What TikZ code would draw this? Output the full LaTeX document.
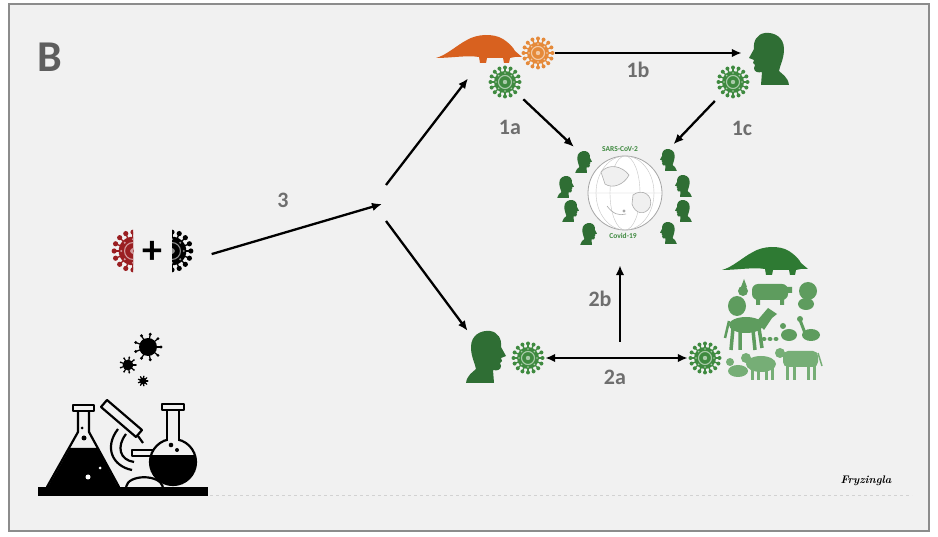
\documentclass[tikz,border=0pt]{standalone}
\usepackage{fontspec}
\setsansfont{Carlito}
\usetikzlibrary{arrows.meta,positioning}
\definecolor{bgc}{HTML}{F1F1F1}
\definecolor{framegray}{HTML}{8C8C8C}
\definecolor{lblgray}{HTML}{6E6E6E}
\definecolor{headgreen}{HTML}{2F6E34}
\definecolor{virgreen}{HTML}{3F8A40}
\definecolor{virorange}{HTML}{E58A3A}
\definecolor{pangoorange}{HTML}{D8611F}
\definecolor{pangogreen}{HTML}{2E7A33}
\definecolor{animgreen}{HTML}{5E9C5E}
\definecolor{animlight}{HTML}{76AE76}
\definecolor{virred}{HTML}{9A1F22}

\begin{document}
\begin{tikzpicture}
[x=1pt,y=-1pt,
%
icon/.style={shape=circle,inner sep=0pt,minimum size=34},
person/.style={shape=rectangle,inner sep=0pt,minimum width=40,minimum height=52},
lbl/.style={font=\sffamily\bfseries\fontsize{22}{22}\selectfont,text=lblgray},
smalltxt/.style={font=\sffamily\bfseries\fontsize{7.5}{7.5}\selectfont,text=virgreen},
%
arr/.style={->,>={Latex[length=10pt,width=8.5pt]},line width=2.3pt,black},
tool/.style={line width=2.2pt,black,line join=round},
%
pics/virus/.style={code={
  \foreach \a in {0,22.5,...,337.5}
    {\draw[#1,line width=1.3pt] (0,0) -- (\a:14.5);
     \fill[#1] (\a:14.5) circle (2);}
  \fill[#1] (0,0) circle (11);
  \draw[#1!45!white,line width=1.1pt] (0,0) circle (6.5);
  \fill[#1!45!white] (0,0) circle (2.2);
  \foreach \a in {0,45,...,315} \fill[#1!45!white] (\a:9) circle (0.9);
}},
pics/germ/.style={code={
  \fill[black] (0,0) circle (9);
  \foreach \a in {0,40,...,320}
    {\draw[black,line width=1.2pt] (0,0) -- (\a:13);
     \fill[black] (\a:13) circle (1.6);}
}},
pics/head/.style={code={
  \fill[#1] (-7,26) -- (21,26)
    .. controls (20,18) and (14,15) .. (11,12)
    .. controls (12,6) and (16,0) .. (16,-10)
    .. controls (16,-22) and (6,-27) .. (-3,-26)
    .. controls (-11,-25) and (-15,-18) .. (-14,-10)
    -- (-19,-1) -- (-14,1) -- (-15,4) -- (-13,6) -- (-14,9)
    .. controls (-14,13) and (-10,14) .. (-6,13)
    -- cycle;
}},
pics/pangolin/.style={code={
  \fill[#1] (-43,9) .. controls (-32,6) and (-22,-4) .. (-12,-9)
    .. controls (-2,-15) and (14,-16) .. (24,-10)
    .. controls (30,-6) and (34,-2) .. (36,2)
    -- (43,8) -- (36,8) -- (31,9)
    -- (30,14) -- (25,14) -- (24,9) -- (8,9) -- (7,14) -- (1,14) -- (0,8)
    .. controls (-12,6) and (-28,9) .. (-43,9) -- cycle;
}}]
%
% panel
\path[fill=white,use as bounding box] (0,0) rectangle (938,537);
\draw[fill=bgc,draw=framegray,line width=2.5] (9,4) rectangle (929,531);
\node[font=\sffamily\bfseries\fontsize{44}{44}\selectfont,text=lblgray!85!black] (panel) at (50,57) {B};
%%
% route 1: pangolin -> human
\node (pangoO) [shape=rectangle,inner sep=0pt,minimum width=84,minimum height=30] at (479,49) {};
\pic at (pangoO) {pangolin=pangoorange};
\node (virO) [icon] at (538,53) {};
\pic at (virO) {virus=virorange};
\node (virG1) [icon] at (505,82) {};
\pic at (virG1) {virus=virgreen};
\node (manT) [person] at (768,59) {};
\pic at (manT) {head=headgreen};
\node (virG2) [icon] at (733,82) {};
\pic at (virG2) {virus=virgreen};
%%
% globe with the infected
\node (world) [shape=circle,inner sep=0pt,minimum size=140] at (625,195) {};
\node (globe) [shape=circle,draw=gray!70,fill=white,line width=0.8,inner sep=0pt,minimum size=74] at (625,193) {};
\draw[gray!45,line width=0.4] (globe.center) ellipse (15 and 37)
  (globe.center) ellipse (29 and 37) (globe.west) -- (globe.east);
\draw[gray!65,line width=0.6,fill=gray!12]
  (601,172) .. controls (609,163) and (622,166) .. (629,175)
  .. controls (624,185) and (612,189) .. (605,184) -- cycle;
\draw[gray!65,line width=0.6,fill=gray!12]
  (633,195) .. controls (642,188) and (654,195) .. (650,207)
  .. controls (645,216) and (635,214) .. (632,204) -- cycle;
\draw[gray!65,line width=0.6] (607,206) .. controls (613,214) and (619,216) .. (626,214);
\fill[gray!70] (624,211) circle (1.6);
\node[smalltxt] (sars) at (620,149) {SARS-CoV-2};
\node[smalltxt] (covid) at (623,236) {Covid-19};
\foreach \x/\y in {584/162,566/187,571/211,589/234}
   \pic[scale=0.42,xscale=-1] at (\x,\y) {head=headgreen};
\foreach \x/\y in {668/160,683/186,683/211,668/233}
   \pic[scale=0.42] at (\x,\y) {head=headgreen};
%%
% route 1 arrows
\draw[arr,shorten >=6pt] (virO) -- (virO -| manT.west);
\draw[arr,shorten <=8pt] (virG1) -- (world);
\draw[arr,shorten <=9pt] (virG2) -- (world);
\node[lbl] (l1a) at (510,127) {1a};
\node[lbl] (l1b) at (638,70) {1b};
\node[lbl] (l1c) at (742,128) {1c};
%%
% route 2: human <-> animals
\node (manB) [person] at (487,357) {};
\pic[xscale=-1] at (manB) {head=headgreen};
\node (virB) [icon] at (528,358) {};
\pic at (virB) {virus=virgreen};
\node (virA) [icon] at (705,358) {};
\pic at (virA) {virus=virgreen};
\draw[arr,<->] (virB) -- (virA);
\coordinate (rise) at (620,342);
\draw[arr] (rise) -- (rise |- world.south);
\node[lbl] (l2a) at (615,377) {2a};
\node[lbl] (l2b) at (600,299) {2b};
%%
% farm animals
\pic at (765,261) {pangolin=pangogreen};
\begin{scope}[color=animgreen]
% rabbit
\fill (737,306) ellipse (9 and 10);
\fill (743,291) circle (5);
\fill (741,287) -- (744,279) -- (747,287) -- cycle;
% pig
\fill[rounded corners=6] (752,284) rectangle (788,300);
\fill (756,298) rectangle (760,305) (780,298) rectangle (784,305) (786,287) rectangle (792,293);
% dog
\fill (808,291) circle (9);
\fill (806,304) ellipse (8 and 6);
% horse
\fill (746,325) ellipse (17 and 8);
\fill (756,322) -- (768,308) -- (777,314) -- (772,318) -- (764,330) -- cycle;
\draw[line width=3.5] (733,328) -- (731,350) (740,330) -- (740,350) (753,330) -- (755,350) (759,328) -- (762,348);
\draw[line width=2.5] (729,321) -- (725,338);
% chicks, hen, goose
\fill (764,339) ellipse (2.5 and 2) (770,339) ellipse (2.5 and 2) (776,339) ellipse (2.5 and 2);
\fill (789,335) ellipse (8 and 6) (783,326) circle (3);
\fill (811,335) ellipse (9 and 6) (800,319) circle (3);
\draw[line width=3] (805,333) -- (800,320);
\end{scope}
\begin{scope}[color=animlight]
% duck
\fill (738,371) ellipse (10 and 6) (730,362) circle (4);
% sheep
\fill (761,364) ellipse (15 and 8) (746,358) circle (5);
\draw[line width=3] (752,368) -- (752,380) (758,370) -- (758,380) (766,370) -- (766,380) (772,368) -- (772,380);
% cow
\fill[rounded corners=5] (783,351) rectangle (818,367);
\fill (780,353) circle (5);
\draw[line width=3] (787,365) -- (787,380) (794,365) -- (794,380) (808,365) -- (808,380) (814,365) -- (814,380);
\draw[line width=1.5] (818,353) -- (822,366);
\end{scope}
%%
% route 3: recombinant virus
\node (pair) [shape=rectangle,inner sep=0pt,minimum width=92,minimum height=46] at (152,254) {};
\begin{scope}
\clip (100,225) rectangle (133,280);
\pic[scale=1.3] at (133,251) {virus=virred};
\end{scope}
\begin{scope}
\clip (172,225) rectangle (205,280);
\pic[scale=1.3] at (172,251) {virus=black};
\end{scope}
\node[font=\sffamily\bfseries\fontsize{40}{40}\selectfont] (plus) at (152,252) {+};
\coordinate (hub) at (382,204);
\coordinate (fanUp) at (386,185);
\coordinate (fanDn) at (386,221);
\draw[arr,shorten <=14pt] (pair.-5) -- (hub);
\draw[arr,shorten >=18pt] (fanUp) -- (pangoO.south);
\draw[arr] (fanDn) -- (manB);
\node[lbl] (l3) at (283,200) {3};
%%
% laboratory
\pic at (148,347) {germ};
\pic[scale=0.6] at (128,365) {germ};
\pic[scale=0.38] at (143,381) {germ};
% erlenmeyer flask
\fill (70,448) -- (97,448) -- (118,487) -- (48,487) -- cycle;
\draw[tool] (73,405) rectangle (94,411);
\draw[tool] (78,411) -- (78,432) -- (47,487) -- (119,487) -- (89,432) -- (89,411);
\fill[white] (88,477) circle (2.5) (100,468) circle (1.5);
\fill (84,438) circle (2.5) (82,428) circle (1.5);
% microscope
\draw[tool] (101,407) -- (136,437) -- (142,430) -- (107,400) -- cycle;
\draw[tool] (138,436) -- (143,443);
\draw[tool] (118,429) .. controls (104,447) and (112,466) .. (132,470);
\draw[tool] (126,434) .. controls (116,447) and (120,460) .. (134,462);
\draw[tool] (132,450) rectangle (160,456);
\draw[tool] (126,487) .. controls (128,474) and (160,474) .. (163,487);
% round flask
\draw[tool,fill=bgc] (173,462) circle (23);
\begin{scope}
\clip (173,462) circle (23);
\fill (148,455) rectangle (198,486);
\end{scope}
\fill[bgc] (168.2,411) rectangle (177.8,443);
\draw[tool] (162,404) rectangle (184,410);
\draw[tool] (167,410) -- (167,441) (179,410) -- (179,441);
\fill (171,445) circle (2.3) (177,450) circle (2);
\fill (38,487) rectangle (208,496);
%%
% footer
\draw[gray!35,dashed,line width=0.8] (210,495) -- (912,495);
\node[font=\itshape\bfseries\fontsize{11}{11}\selectfont] (sig) at (866,481) {Fryzingla};
\end{tikzpicture}
\end{document}
